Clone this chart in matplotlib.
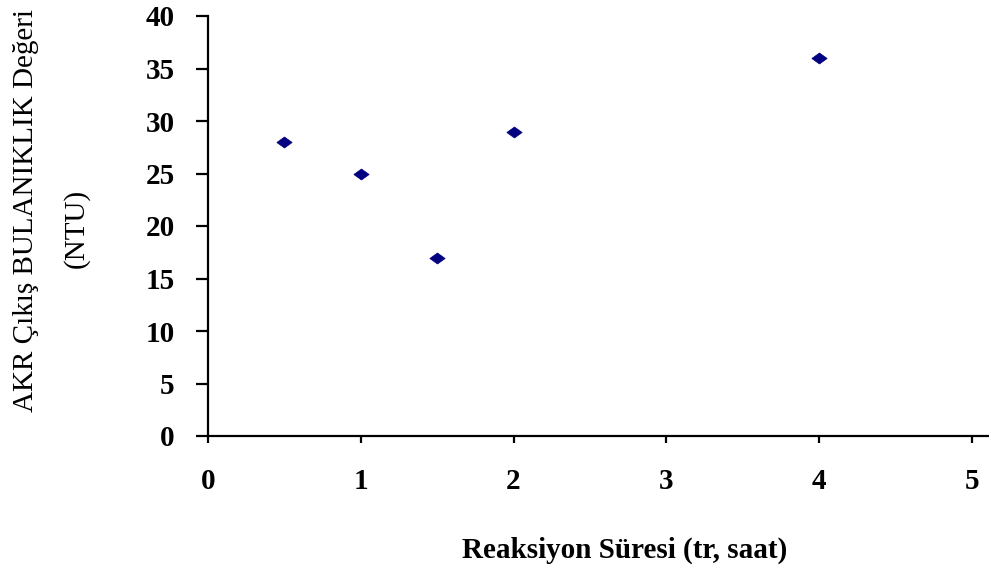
import matplotlib
matplotlib.use("Agg")
import matplotlib.pyplot as plt

x_hours = [0.5, 1.0, 1.5, 2.0, 4.0]
turbidity_ntu = [28, 25, 17, 29, 36]
x_ticks = [0, 1, 2, 3, 4, 5]
y_ticks = [0, 5, 10, 15, 20, 25, 30, 35, 40]

plt.rcParams['font.family'] = ['Liberation Serif', 'DejaVu Serif']

W, H = 989, 575
fig = plt.figure(figsize=(W / 100, H / 100), dpi=100)
ax = fig.add_axes([208 / W, 1 - 436 / H, (989 - 208) / W, (436 - 16) / H])

wide_diamond = [(-1, 0), (0, 0.72), (1, 0), (0, -0.72), (-1, 0)]
ax.plot(x_hours, turbidity_ntu, linestyle='none', marker=wide_diamond, markersize=11,
        color='#000080', markeredgecolor='#000080', markeredgewidth=0.5)

ax.set_xlim(0, (989 - 208) / 152.75)
ax.set_ylim(0, 40)
ax.set_xticks(x_ticks)
ax.set_yticks(y_ticks)
ax.set_xticklabels([str(v) for v in x_ticks], fontsize=21, fontweight='bold')
ax.set_yticklabels([str(v) for v in y_ticks], fontsize=21, fontweight='bold')

for s in ['top', 'right']:
    ax.spines[s].set_visible(False)
for s in ['left', 'bottom']:
    ax.spines[s].set_linewidth(1.6)
    ax.spines[s].set_color('black')

ax.tick_params(axis='y', direction='out', length=9, width=1.6, pad=15)
ax.tick_params(axis='x', direction='out', length=5, width=1.6, pad=18)

fig.text(26 / W, 1 - 211 / H, 'AKR Çıkış BULANIKLIK Değeri', rotation=90,
         ha='center', va='center', fontsize=21)
fig.text(76 / W, 1 - 228 / H, '(NTU)', rotation=90,
         ha='center', va='center', fontsize=21)
fig.text(625 / W, 1 - 550 / H, 'Reaksiyon Süresi (tr, saat)',
         ha='center', va='center', fontsize=21, fontweight='bold')

fig.savefig('out.png', dpi=100)
